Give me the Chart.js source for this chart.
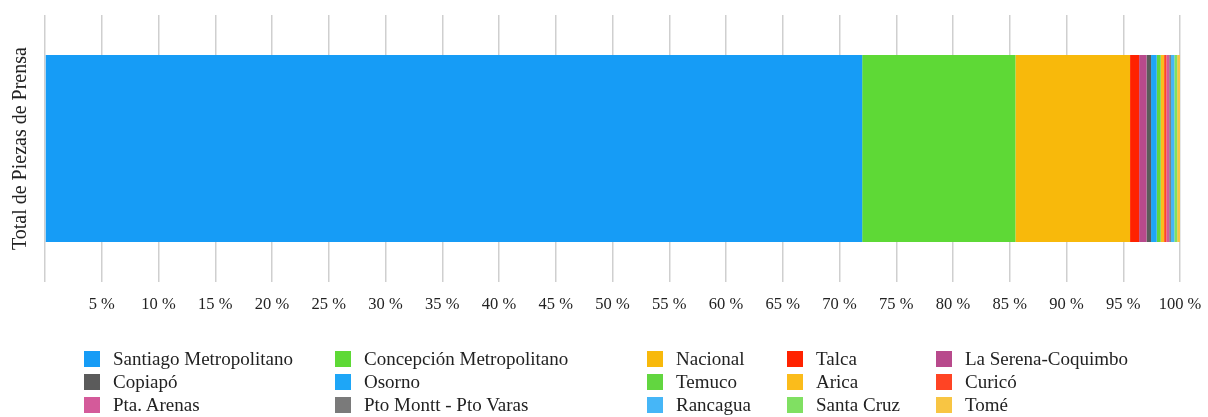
<!DOCTYPE html>
<html>
<head>
<meta charset="utf-8">
<script src="https://cdn.jsdelivr.net/npm/chart.js@4/dist/chart.umd.min.js"></script>
<style>
  html, body { margin: 0; padding: 0; background: #fff; }
  body { width: 1208px; height: 417px; position: relative; overflow: hidden; font-family: "Liberation Serif", "DejaVu Serif", serif; }
  #wrap { position: absolute; left: 0; top: 0; width: 1208px; height: 345px; }
  #legend { position: absolute; left: 0; top: 0; width: 1208px; height: 417px; pointer-events: none; }
  .item { position: absolute; display: flex; align-items: center; font-size: 19px; color: #222; white-space: nowrap; }
  .box { width: 16px; height: 16px; margin-right: 13px; flex: none; }
</style>
</head>
<body>
<div id="wrap"><canvas id="c"></canvas></div>
<div id="legend"></div>
<script>
const categories = ["Total de Piezas de Prensa"];
const regions = [
  "Santiago Metropolitano", "Concepción Metropolitano", "Nacional", "Talca", "La Serena-Coquimbo",
  "Copiapó", "Osorno", "Temuco", "Arica", "Curicó",
  "Pta. Arenas", "Pto Montt - Pto Varas", "Rancagua", "Santa Cruz", "Tomé"
];
const shares = [72.0, 13.5, 10.1, 0.8, 0.65, 0.4, 0.5, 0.35, 0.3, 0.2, 0.25, 0.15, 0.3, 0.25, 0.25];
const colors = [
  "#169cf6", "#5ed936", "#f8b90b", "#ff2200", "#b84a8c",
  "#5b5b5b", "#1ea6f7", "#62d640", "#fbbc1b", "#ff4424",
  "#d45a9a", "#7a7a7a", "#46b6f7", "#80e062", "#f8c543"
];
const tickValues = [0,5,10,15,20,25,30,35,40,45,50,55,60,65,70,75,80,85,90,95,100];

const datasets = regions.map((r, i) => ({
  label: r,
  data: [shares[i]],
  backgroundColor: colors[i],
  borderWidth: 0,
  barPercentage: 0.70,
  categoryPercentage: 1.0
}));

new Chart(document.getElementById('c'), {
  type: 'bar',
  data: { labels: categories, datasets },
  options: {
    indexAxis: 'y',
    responsive: true,
    maintainAspectRatio: false,
    animation: false,
    layout: { padding: { top: 15, right: 28, bottom: 17, left: 0 } },
    plugins: { legend: { display: false }, tooltip: { enabled: false } },
    scales: {
      x: {
        stacked: true,
        min: 0, max: 100,
        afterBuildTicks: (axis) => { axis.ticks = tickValues.map(v => ({ value: v })); },
        afterFit: (axis) => { axis.paddingLeft = 0; axis.paddingRight = 0; },
        ticks: {
          padding: 13,
          color: '#222',
          font: { family: '"Liberation Serif", serif', size: 16.5 },
          maxRotation: 0,
          autoSkip: false,
          callback: (v) => v === 0 ? '' : v + ' %'
        },
        grid: { color: '#cfcfcf', lineWidth: 1.5, drawTicks: false },
        border: { display: false }
      },
      y: {
        stacked: true,
        afterFit: (axis) => { axis.width = 45; },
        ticks: { display: false },
        grid: { display: false },
        border: { display: false },
        title: {
          display: true,
          text: categories[0],
          color: '#222',
          font: { family: '"Liberation Serif", serif', size: 20 },
          padding: { top: 9, bottom: 0 }
        }
      }
    }
  }
});

// legend grid (5 columns x 3 rows), built from the arrays
const colX = [84, 335, 647, 787, 936];
const rowY = [351, 374, 397];
const leg = document.getElementById('legend');
regions.forEach((r, i) => {
  const d = document.createElement('div');
  d.className = 'item';
  d.style.left = colX[i % 5] + 'px';
  d.style.top = (rowY[Math.floor(i / 5)] - 3) + 'px';
  d.style.height = '22px';
  const b = document.createElement('span');
  b.className = 'box';
  b.style.background = colors[i];
  const t = document.createElement('span');
  t.textContent = r;
  d.appendChild(b); d.appendChild(t);
  leg.appendChild(d);
});
</script>
</body>
</html>
